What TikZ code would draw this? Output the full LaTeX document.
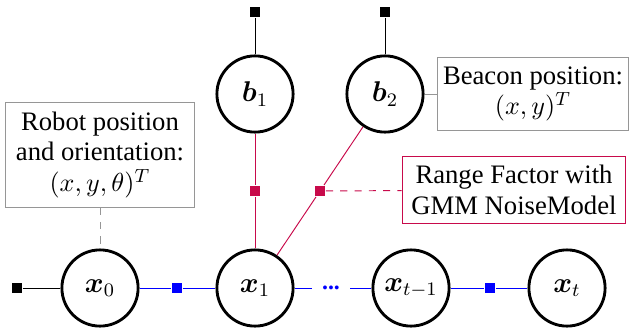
\documentclass[tikz,border=0pt]{standalone}
\usepackage{amsmath,bm}
\usepackage{fontspec}
\setmainfont{Liberation Serif}
\usetikzlibrary{calc}
\definecolor{crim}{RGB}{200,10,75}
\definecolor{boxgray}{RGB}{150,150,150}
\begin{document}
\begin{tikzpicture}[x=0.42pt,y=-0.42pt,
  var/.style={circle,draw,very thick,minimum size=32pt,inner sep=0pt,font=\large},
  fac/.style={rectangle,fill,minimum size=4.6pt,inner sep=0pt},
  note/.style={rectangle,draw=boxgray,thin,align=center,inner sep=2pt,font=\fontsize{11.2}{12.8}\selectfont},
  blueline/.style={draw=blue,thin},
  crimline/.style={draw=crim,thin}]
\useasboundingbox (0,0) rectangle (631,331);
% variables
\node[var] (x0) at (100,288) {$\bm{x}_0$};
\node[var] (x1) at (255,288) {$\bm{x}_1$};
\node[var] (xt1) at (411,288) {$\bm{x}_{t-1}$};
\node[var] (xt) at (567,288) {$\bm{x}_t$};
\node[var] (b1) at (255,94) {$\bm{b}_1$};
\node[var] (b2) at (385,94) {$\bm{b}_2$};
% factors
\node[fac] (p0) at (17,288) {};
\node[fac] (pb1) at (255,12) {};
\node[fac] (pb2) at (385,12) {};
\node[fac,fill=blue] (f01) at (177,288) {};
\node[fac,fill=blue] (ft) at (490,288) {};
\node[fac,fill=crim] (r1) at (255,191) {};
\node[fac,fill=crim] (r2) at ($(b2)!0.5!(x1)$) {};
\node[text=blue,inner xsep=4.2pt,inner ysep=0pt] (dots) at (331,288) {\bfseries ...};
% notes
\node[note,minimum width=79pt,minimum height=44pt] (robot) at (100,155) {Robot position\\and orientation:\\$(x,y,\theta)^T$};
\node[note,minimum width=80pt,minimum height=31pt] (beacon) at (533,94) {Beacon position:\\$(x,y)^T$};
\node[note,draw=crim,minimum width=94pt,minimum height=28pt] (range) at (514,190) {Range Factor with\\GMM NoiseModel};
% edges
\draw[thin] (p0) -- (x0);
\draw[thin] (pb1) -- (b1);
\draw[thin] (pb2) -- (b2);
\draw[blueline] (x0) -- (f01) -- (x1);
\draw[blueline] (x1) -- (dots) -- (xt1);
\draw[blueline] (xt1) -- (ft) -- (xt);
\draw[crimline] (b1) -- (r1) -- (x1);
\draw[crimline] (b2) -- (r2) -- (x1);
\draw[crimline,dashed] (r2) -- (range);
\draw[draw=boxgray,thin,dashed] (robot) -- (x0);
\draw[draw=boxgray,thin] (b2) -- (beacon);
\end{tikzpicture}
\end{document}
